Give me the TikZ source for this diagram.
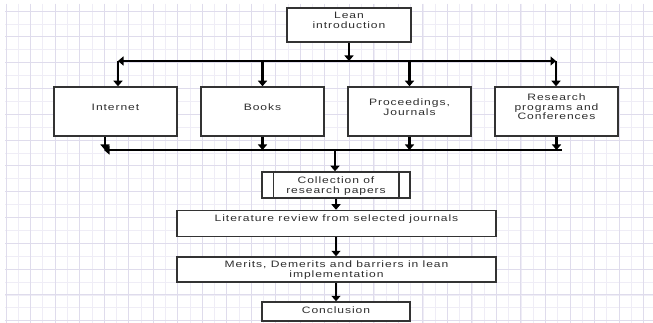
\documentclass[tikz,border=0pt]{standalone}
\usepackage{fontspec}
\newfontfamily\dfont[FakeStretch=1.3,LetterSpace=10]{Liberation Sans}
\usetikzlibrary{arrows.meta}
\definecolor{gridminor}{HTML}{EFEDF6}
\definecolor{gridmajor}{HTML}{DFDCEC}
\definecolor{boxline}{HTML}{333333}
\definecolor{txtc}{HTML}{2E2E2E}
\begin{document}
\begin{tikzpicture}[x=1pt,y=-1pt,
 box/.style={draw=boxline,line width=1.5pt,fill=white,inner sep=0pt},
 txt/.style={font=\dfont\fontsize{9.3}{9.6}\selectfont,text=txtc,align=center,inner sep=0pt},
 arr/.style={draw=black,line width=2.1pt,-{Triangle[width=9pt,length=5.5pt]}},
 gmin/.style={draw=gridminor,line width=0.6pt},
 gmaj/.style={draw=gridmajor,line width=0.9pt}]
\useasboundingbox (0,0) rectangle (653,323);
\fill[white] (0,0) rectangle (653,323);
% background grid
\foreach \n in {0,...,52}{\draw[gmin] ({6+12.26*\n},4) -- ({6+12.26*\n},323);}
\foreach \n in {0,...,24}{\draw[gmin] (5,{11+12.9*\n}) -- (653,{11+12.9*\n});}
\foreach \n in {0,2,...,52}{\draw[gmaj] ({6+12.26*\n},4) -- ({6+12.26*\n},323);}
\foreach \n in {0,2,...,24}{\draw[gmaj] (5,{11+12.9*\n}) -- (653,{11+12.9*\n});}

% boxes
\node[box,minimum width=124pt,minimum height=34pt] (lean) at (349,25) {};
\node[txt] (leantxt) at ([yshift=4.5pt]lean.center) {Lean\\introduction};

\node[box,minimum width=123pt,minimum height=49pt] (internet) at (115.5,111.5) {};
\node[txt] (internettxt) at ([yshift=4.5pt]internet.center) {Internet};
\node[box,minimum width=123pt,minimum height=49pt] (books) at (262.5,111.5) {};
\node[txt] (bookstxt) at ([yshift=4.5pt]books.center) {Books};
\node[box,minimum width=123pt,minimum height=49pt] (proc) at (409.5,111.5) {};
\node[txt] (proctxt) at ([yshift=4.5pt]proc.center) {Proceedings,\\Journals};
\node[box,minimum width=123pt,minimum height=49pt] (res) at (556.5,111.5) {};
\node[txt] (restxt) at ([yshift=4.5pt]res.center) {Research\\programs and\\Conferences};

\node[box,minimum width=148pt,minimum height=26pt] (coll) at (336,185) {};
\draw[draw=boxline,line width=1.5pt] ([xshift=12pt]coll.north west) -- ([xshift=12pt]coll.south west);
\draw[draw=boxline,line width=1.5pt] ([xshift=-12pt]coll.north east) -- ([xshift=-12pt]coll.south east);
\node[txt] (colltxt) at ([yshift=-1pt]coll.center) {Collection of\\research papers};

\node[box,minimum width=319pt,minimum height=26pt] (lit) at (336.5,223.5) {};
\node[txt] (littxt) at ([yshift=4.5pt]lit.center) {Literature review from selected journals};

\node[box,minimum width=319pt,minimum height=25pt] (mer) at (336.5,269.5) {};
\node[txt] (mertxt) at ([yshift=-0.8pt]mer.center) {Merits, Demerits and barriers in lean\\implementation};

\node[box,minimum width=148pt,minimum height=19pt] (conc) at (336,311.5) {};
\node[txt] (conctxt) at ([yshift=1pt]conc.center) {Conclusion};

% top distribution bus
\coordinate (tb) at (349,61);
\coordinate (tl) at (118,61);
\coordinate (tr) at (556,61);
\draw[arr] (lean.south) -- (tb);
\draw[arr] (tb) -- (tl);
\draw[arr] (tb) -- (tr);
\draw[arr] (tl) -- (tl |- internet.north);
\draw[arr] (books.north |- tb) -- (books.north);
\draw[arr] (proc.north |- tb) -- (proc.north);
\draw[arr] (tr) -- (tr |- res.north);

% bottom collection bus
\coordinate (bl) at (104,150);
\coordinate (br) at (562,150);
\coordinate (bc) at (335,150);
\draw[arr] ([xshift=-10.5pt]internet.south) -- ([xshift=-10.5pt]internet.south |- bl);
\draw[arr] (books.south) -- (books.south |- bl);
\draw[arr] (proc.south) -- (proc.south |- bl);
\draw[arr] (res.south) -- (res.south |- bl);
\draw[arr] (br) -- (bl);
\draw[arr] (bc) -- (bc |- coll.north);

% main chain
\draw[arr] (coll.south) -- (lit.north -| coll.south);
\draw[arr] (lit.south -| coll.south) -- (mer.north -| coll.south);
\draw[arr] (mer.south -| coll.south) -- (conc.north);
\end{tikzpicture}
\end{document}
